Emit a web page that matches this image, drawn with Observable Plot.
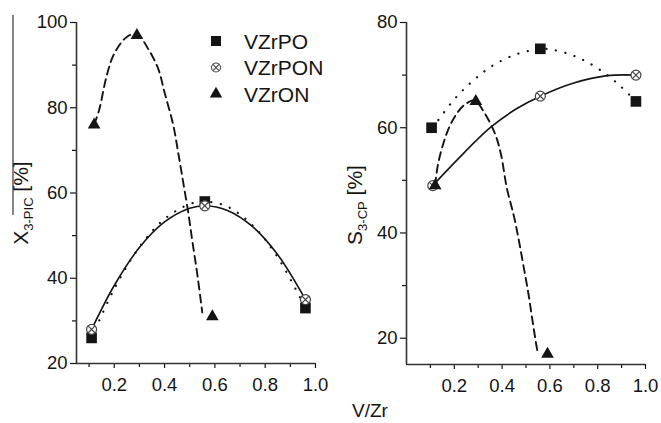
<!DOCTYPE html>
<html><head><meta charset="utf-8">
<script src="https://cdn.jsdelivr.net/npm/d3@7"></script>
<script src="https://cdn.jsdelivr.net/npm/@observablehq/plot@0.6"></script>
<style>
html,body{margin:0;padding:0;background:#fff;}
#chart{position:relative;width:661px;height:423px;font-family:"Liberation Sans",Arial,sans-serif;}
#chart svg{position:absolute;top:0;}
</style></head><body><div id="chart"></div>
<script>
// ---- Data ----
const seriesNames = ["VZrPO", "VZrPON", "VZrON"];

// Left panel: X3-PIC [%]
const leftPO_x = [0.11, 0.56, 0.96];  const leftPO_y = [26, 58, 33];
const leftPON_x = [0.11, 0.56, 0.96]; const leftPON_y = [28, 57, 35];
const leftON_x = [0.12, 0.29, 0.59];  const leftON_y = [76, 97, 31];
// fitted curves in left panel
const leftFitPO_x = [0.11, 0.2, 0.3, 0.4, 0.5, 0.56, 0.65, 0.75, 0.85, 0.96];
const leftFitPO_y = [26, 37.5, 47.3, 53.9, 57.4, 58, 56.8, 52.4, 44.9, 33];
const leftFitPON_x = [0.11, 0.2, 0.3, 0.4, 0.5, 0.56, 0.65, 0.75, 0.85, 0.96];
const leftFitPON_y = [28, 38.3, 47.2, 53.2, 56.4, 57, 55.9, 52.1, 45.5, 35];
const leftFitON_x = [0.12, 0.14, 0.17, 0.20, 0.25, 0.29, 0.335, 0.375, 0.40, 0.435, 0.455, 0.475, 0.495, 0.51, 0.53, 0.55];
const leftFitON_y = [76, 79.5, 87.5, 92.7, 96.6, 97.3, 93.8, 89.1, 83.6, 75.8, 69.2, 62.2, 55.1, 48.9, 41.0, 32];

// Right panel: S3-CP [%]
const rightPO_x = [0.105, 0.56, 0.96]; const rightPO_y = [60, 75, 65];
const rightPON_x = [0.11, 0.56, 0.96]; const rightPON_y = [49, 66, 70];
const rightON_x = [0.12, 0.29, 0.59];  const rightON_y = [49, 65, 17];
const rightFitPO_x = [0.11, 0.2, 0.28, 0.36, 0.45, 0.52, 0.56, 0.6, 0.68, 0.76, 0.84, 0.9, 0.96];
const rightFitPO_y = [60, 65.4, 69.0, 71.8, 73.8, 74.7, 75, 74.9, 74.0, 72.4, 70.0, 67.7, 65];
const rightFitPON_x = [0.11, 0.21, 0.35, 0.46, 0.56, 0.70, 0.84, 0.96];
const rightFitPON_y = [49, 53.8, 60.0, 63.6, 66, 68.5, 69.9, 70];
const rightFitON_x = [0.12, 0.13, 0.15, 0.18, 0.215, 0.25, 0.285, 0.32, 0.37, 0.395, 0.42, 0.45, 0.47, 0.49, 0.51, 0.525, 0.54, 0.547];
const rightFitON_y = [49, 52.6, 56.4, 60.2, 63, 64.6, 65.2, 63.3, 58.9, 55, 48.5, 43.1, 38.6, 33.6, 28.5, 24, 19.6, 17.7];

// ticks
const xMajorTicks = [0.2, 0.4, 0.6, 0.8, 1.0];
const xMinorTicks = [0.1, 0.3, 0.5, 0.7, 0.9];
const leftYTicks = [20, 40, 60, 80, 100];
const leftYMinor = [30, 50, 70, 90];
const rightYTicks = [20, 40, 60, 80];
const rightYMinor = [30, 50, 70];
const xLabel = "V/Zr";

const pts = (xs, ys) => xs.map((x, i) => ({x, y: ys[i]}));
const INK = "#141414";

function panel(o) {
  return Plot.plot({
    width: o.width, height: 423,
    marginLeft: 76, marginRight: o.marginRight, marginTop: 22, marginBottom: o.marginBottom,
    x: {domain: o.xDomain},
    y: {domain: o.yDomain},
    style: {fontFamily: '"Liberation Sans", Arial, sans-serif', fontSize: "18.5px", color: INK, background: "transparent", overflow: "visible"},
    marks: [
      Plot.axisX({ticks: xMinorTicks, tickSize: 4, tickFormat: () => "", label: null, strokeWidth: 1.2}),
      Plot.axisX({ticks: xMajorTicks, tickSize: 5, tickPadding: 9, tickFormat: d3.format(".1f"), label: null, strokeWidth: 1.2, fontSize: 18.5}),
      Plot.axisY({ticks: o.yMinor, tickSize: 4, tickFormat: () => "", label: null, strokeWidth: 1.2}),
      Plot.axisY({ticks: o.yTicks, tickSize: 6, tickPadding: 3, label: null, strokeWidth: 1.2, fontSize: 18.5}),
      Plot.ruleX([o.xDomain[0]], {stroke: "#333", strokeWidth: 1.6}),
      Plot.ruleY([o.yDomain[0]], {stroke: "#333", strokeWidth: 1.6}),
      Plot.line(o.fitPO, {x: "x", y: "y", curve: "catmull-rom", stroke: INK, strokeWidth: 2.2, strokeDasharray: "0.1,9.5", strokeLinecap: "round"}),
      Plot.line(o.fitPON, {x: "x", y: "y", curve: "catmull-rom", stroke: INK, strokeWidth: 1.6}),
      Plot.line(o.fitON, {x: "x", y: "y", curve: "catmull-rom", stroke: INK, strokeWidth: 1.9, strokeDasharray: "8,5"}),
      Plot.dot(o.PO, {x: "x", y: "y", symbol: "square", r: 6, fill: INK}),
      Plot.dot(o.PON, {x: "x", y: "y", r: 5, fill: "white", stroke: "#444", strokeWidth: 1.2}),
      Plot.dot(o.PON, {x: "x", y: "y", symbol: "times", r: 3.1, stroke: "#444", strokeWidth: 1.2}),
      Plot.dot(o.ON, {x: "x", y: "y", symbol: "triangle", r: 4.7, fill: INK})
    ]
  });
}

const chart = document.getElementById("chart");

const left = panel({
  width: 330, marginRight: 15, marginBottom: 60,
  xDomain: [0.05, 1.0], yDomain: [20, 100],
  yTicks: leftYTicks, yMinor: leftYMinor,
  PO: pts(leftPO_x, leftPO_y), PON: pts(leftPON_x, leftPON_y), ON: pts(leftON_x, leftON_y),
  fitPO: pts(leftFitPO_x, leftFitPO_y), fitPON: pts(leftFitPON_x, leftFitPON_y), fitON: pts(leftFitON_x, leftFitON_y)
});
left.style.left = "0px";
chart.appendChild(left);

const right = panel({
  width: 331, marginRight: 16, marginBottom: 59,
  xDomain: [0, 1.0], yDomain: [15, 80],
  yTicks: rightYTicks, yMinor: rightYMinor,
  PO: pts(rightPO_x, rightPO_y), PON: pts(rightPON_x, rightPON_y), ON: pts(rightON_x, rightON_y),
  fitPO: pts(rightFitPO_x, rightFitPO_y), fitPON: pts(rightFitPON_x, rightFitPON_y), fitON: pts(rightFitON_x, rightFitON_y)
});
right.style.left = "330px";
chart.appendChild(right);

// ---- Overlay: axis titles and legend ----
const ov = d3.select(chart).append("svg")
  .attr("width", 661).attr("height", 423)
  .style("left", "0px").style("top", "0px")
  .attr("font-family", '"Liberation Sans", Arial, sans-serif')
  .attr("fill", INK);

function yTitle(x, y, main, sub) {
  const t = ov.append("text").attr("transform", `translate(${x},${y}) rotate(-90)`)
    .attr("text-anchor", "middle").attr("font-size", 21);
  t.append("tspan").text(main);
  t.append("tspan").attr("font-size", 13).attr("dy", 5).text(sub);
  t.append("tspan").attr("dy", -5).text(" [%]");
}
yTitle(28, 203, "X", "3-PIC");
yTitle(362, 205, "S", "3-CP");
ov.append("line").attr("x1", 13).attr("x2", 13).attr("y1", 15).attr("y2", 215)
  .attr("stroke", "#333").attr("stroke-width", 1.2);

ov.append("text").attr("x", 352).attr("y", 417).attr("font-size", 19).text(xLabel);

// legend
const legY = [41, 67.5, 94];
const legX = 216;
ov.append("path").attr("transform", `translate(${legX},${legY[0]})`)
  .attr("d", d3.symbol(d3.symbolSquare, 100)()).attr("fill", INK);
ov.append("circle").attr("cx", legX).attr("cy", legY[1]).attr("r", 4.5)
  .attr("fill", "white").attr("stroke", "#444").attr("stroke-width", 1.1);
ov.append("path").attr("transform", `translate(${legX},${legY[1]})`)
  .attr("d", d3.symbol(d3.symbolTimes, 26)()).attr("stroke", "#444").attr("stroke-width", 1.1).attr("fill", "none");
ov.append("path").attr("transform", `translate(${legX},${legY[2]})`)
  .attr("d", d3.symbol(d3.symbolTriangle, 66)()).attr("fill", INK);
seriesNames.forEach((s, i) => {
  ov.append("text").attr("x", 244).attr("y", legY[i] + 7.5).attr("font-size", 21).text(s);
});
</script>
</body></html>
